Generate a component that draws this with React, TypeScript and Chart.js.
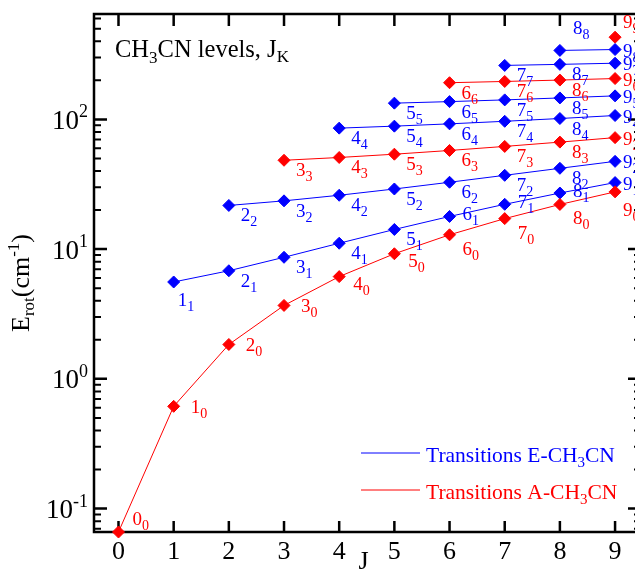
import React, { useEffect, useRef } from "react";
import { Chart, registerables } from "chart.js";

Chart.register(...registerables);

// ---- data (E_rot in cm^-1, each ladder K starts at J = K) ----
const J_LEVELS = [0, 1, 2, 3, 4, 5, 6, 7, 8, 9];
const E_K0 = [0.066, 0.614, 1.84, 3.68, 6.14, 9.21, 12.89, 17.18, 22.09, 27.62];
const E_K1 = [5.58, 6.81, 8.65, 11.1, 14.17, 17.85, 22.15, 27.06, 32.58];
const E_K2 = [21.71, 23.55, 26.01, 29.07, 32.76, 37.05, 41.96, 47.48];
const E_K3 = [48.39, 50.84, 53.91, 57.59, 61.89, 66.8, 72.32];
const E_K4 = [85.61, 88.68, 92.36, 96.66, 101.56, 107.09];
const E_K5 = [133.38, 137.06, 141.36, 146.27, 151.79];
const E_K6 = [191.7, 196.0, 200.9, 206.43];
const E_K7 = [260.57, 265.48, 271.0];
const E_K8 = [339.98, 345.5];
const E_K9 = [429.94];
const LADDERS = [E_K0, E_K1, E_K2, E_K3, E_K4, E_K5, E_K6, E_K7, E_K8, E_K9];
const SPECIES = ["A", "E", "E", "A", "E", "E", "A", "E", "E", "A"];

const X_TICKS = [0, 1, 2, 3, 4, 5, 6, 7, 8, 9];
const Y_MAJOR = [0.1, 1, 10, 100];
const Y_EXP = ["-1", "0", "1", "2"];
const Y_MINOR = [
  0.07, 0.08, 0.09,
  0.2, 0.3, 0.4, 0.5, 0.6, 0.7, 0.8, 0.9,
  2, 3, 4, 5, 6, 7, 8, 9,
  20, 30, 40, 50, 60, 70, 80, 90,
  200, 300, 400, 500, 600,
];
const LEGEND_ITEMS = [
  { species: "E", text: "Transitions E-CH", sub: "3", tail: "CN" },
  { species: "A", text: "Transitions A-CH", sub: "3", tail: "CN" },
];

const X_MIN = -0.444;
const X_MAX = 9.47;
const Y_MIN = 0.066;
const Y_MAX = 649;

const BLUE = "#0000ff";
const RED = "#ff0000";
const FONT = "'Liberation Serif', 'Times New Roman', serif";

type Part = { t: string; size: number; dy: number };

function partsWidth(ctx: CanvasRenderingContext2D, parts: Part[]) {
  let w = 0;
  for (const p of parts) {
    ctx.font = `${p.size}px ${FONT}`;
    w += ctx.measureText(p.t).width;
  }
  return w;
}

function drawParts(ctx: CanvasRenderingContext2D, parts: Part[], x: number, y: number) {
  let cx = x;
  ctx.textAlign = "left";
  ctx.textBaseline = "alphabetic";
  for (const p of parts) {
    ctx.font = `${p.size}px ${FONT}`;
    ctx.fillText(p.t, cx, y + p.dy);
    cx += ctx.measureText(p.t).width;
  }
}

function labelOffset(J: number, K: number): [number, number] {
  if (J === 9) {
    if (K === 0) return [8, 24];
    if (K === 9) return [8, -9];
    return [8, 7];
  }
  if (K === 0) {
    if (J === 0) return [14, -7];
    if (J <= 3) return [17, 7];
    if (J <= 5) return [14, 13];
    return [13, 20];
  }
  if (K === 1 && J === 1) return [4, 24];
  if (K === 8 && J === 8) return [13, -16];
  if (K === 1 && J >= 6) return [13, 4];
  return [12, 16];
}

const framePlugin = {
  id: "frame",
  beforeDatasetsDraw(chart: any) {
    const { ctx, chartArea } = chart;
    const { left, right, top, bottom } = chartArea;
    const xs = chart.scales.x;
    const ys = chart.scales.y;
    ctx.save();
    ctx.strokeStyle = "#000";
    ctx.fillStyle = "#000";
    ctx.lineWidth = 2.5;
    ctx.strokeRect(left, top, right - left, bottom - top);
    ctx.beginPath();
    for (const v of X_TICKS) {
      const px = xs.getPixelForValue(v);
      ctx.moveTo(px, top);
      ctx.lineTo(px, top + 12);
      ctx.moveTo(px, bottom);
      ctx.lineTo(px, bottom - 11);
    }
    for (const v of Y_MAJOR) {
      const py = ys.getPixelForValue(v);
      ctx.moveTo(left, py);
      ctx.lineTo(left + 13, py);
      ctx.moveTo(right, py);
      ctx.lineTo(right - 13, py);
    }
    ctx.stroke();
    ctx.lineWidth = 2;
    ctx.beginPath();
    for (const v of Y_MINOR) {
      const py = ys.getPixelForValue(v);
      ctx.moveTo(left, py);
      ctx.lineTo(left + 7, py);
      ctx.moveTo(right, py);
      ctx.lineTo(right - 7, py);
    }
    ctx.stroke();

    ctx.font = `26px ${FONT}`;
    ctx.textAlign = "center";
    ctx.textBaseline = "alphabetic";
    for (const v of X_TICKS) {
      ctx.fillText(String(v), xs.getPixelForValue(v), bottom + 27);
    }
    Y_MAJOR.forEach((v, i) => {
      const py = ys.getPixelForValue(v);
      const parts: Part[] = [
        { t: "10", size: 27, dy: 9.5 },
        { t: Y_EXP[i], size: 18, dy: -2 },
      ];
      const w = partsWidth(ctx, parts);
      drawParts(ctx, parts, left - 6 - w, py);
    });

    const xt: Part[] = [{ t: "J", size: 26, dy: 0 }];
    const xw = partsWidth(ctx, xt);
    drawParts(ctx, xt, (left + right) / 2 - 4 - xw / 2, 569);

    const yt: Part[] = [
      { t: "E", size: 26, dy: 0 },
      { t: "rot", size: 17, dy: 5 },
      { t: "(cm", size: 26, dy: 0 },
      { t: "-1", size: 17, dy: -10 },
      { t: ")", size: 26, dy: 0 },
    ];
    const yw = partsWidth(ctx, yt);
    ctx.save();
    ctx.translate(29, 283 + yw / 2);
    ctx.rotate(-Math.PI / 2);
    drawParts(ctx, yt, 0, 0);
    ctx.restore();

    drawParts(
      ctx,
      [
        { t: "CH", size: 24.5, dy: 0 },
        { t: "3", size: 17, dy: 6 },
        { t: "CN levels, J", size: 24.5, dy: 0 },
        { t: "K", size: 17, dy: 5 },
      ],
      115,
      57
    );

    LEGEND_ITEMS.forEach((it, i) => {
      const color = it.species === "A" ? RED : BLUE;
      const baseY = 461.5 + i * 37;
      ctx.strokeStyle = color;
      ctx.fillStyle = color;
      ctx.lineWidth = 1;
      ctx.beginPath();
      ctx.moveTo(361, baseY - 8.5);
      ctx.lineTo(420, baseY - 8.5);
      ctx.stroke();
      drawParts(
        ctx,
        [
          { t: it.text, size: 21.5, dy: 0 },
          { t: it.sub, size: 15, dy: 5 },
          { t: it.tail, size: 21.5, dy: 0 },
        ],
        426,
        baseY
      );
    });
    ctx.restore();
  },
};

const labelPlugin = {
  id: "levelLabels",
  afterDatasetsDraw(chart: any) {
    const { ctx } = chart;
    const xs = chart.scales.x;
    const ys = chart.scales.y;
    ctx.save();
    LADDERS.forEach((vals, K) => {
      ctx.fillStyle = SPECIES[K] === "A" ? RED : BLUE;
      vals.forEach((e, i) => {
        const J = J_LEVELS[K + i];
        const px = xs.getPixelForValue(J);
        const py = ys.getPixelForValue(e);
        const [dx, dy] = labelOffset(J, K);
        drawParts(
          ctx,
          [
            { t: String(J), size: 19, dy: 0 },
            { t: String(K), size: 14, dy: 5 },
          ],
          px + dx,
          py + dy
        );
      });
    });
    ctx.restore();
  },
};

export default function App() {
  const ref = useRef<HTMLCanvasElement>(null);
  useEffect(() => {
    const canvas = ref.current;
    if (!canvas) return;
    const datasets = LADDERS.map((vals, K) => {
      const color = SPECIES[K] === "A" ? RED : BLUE;
      return {
        label: `K=${K}`,
        data: vals.map((e, i) => ({ x: J_LEVELS[K + i], y: e })),
        borderColor: color,
        backgroundColor: color,
        borderWidth: 1,
        pointStyle: "rectRot",
        pointRadius: 6,
        pointBorderWidth: 1,
        pointHoverRadius: 6,
        tension: 0,
        clip: false,
      };
    });
    const chart = new Chart(canvas, {
      type: "line",
      data: { datasets } as any,
      options: {
        responsive: false,
        animation: false,
        devicePixelRatio: 1,
        events: [],
        layout: { padding: { left: 94, top: 14, right: 19, bottom: 39 } },
        scales: {
          x: { type: "linear", min: X_MIN, max: X_MAX, display: false },
          y: { type: "logarithmic", min: Y_MIN, max: Y_MAX, display: false },
        },
        plugins: {
          legend: { display: false },
          tooltip: { enabled: false },
        },
      } as any,
      plugins: [framePlugin, labelPlugin],
    });
    return () => chart.destroy();
  }, []);
  return (
    <div
      style={{
        position: "fixed",
        left: 0,
        top: 0,
        width: 635,
        height: 571,
        overflow: "hidden",
        background: "#fff",
      }}
    >
      <canvas
        ref={ref}
        width={660}
        height={571}
        style={{ display: "block", width: 660, height: 571 }}
      />
    </div>
  );
}
